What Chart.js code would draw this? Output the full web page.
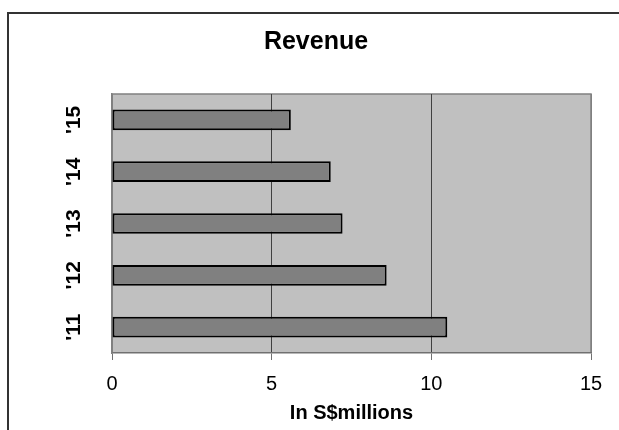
<!DOCTYPE html>
<html>
<head>
<meta charset="utf-8">
<script src="https://cdn.jsdelivr.net/npm/chart.js@4/dist/chart.umd.min.js"></script>
<style>
  html, body { margin: 0; padding: 0; background: #fff; }
  #wrap { position: relative; width: 619px; height: 430px; overflow: hidden; }
  #frame { position: absolute; left: 7px; top: 12px; width: 640px; height: 440px;
           border-left: 2px solid #333; border-top: 2px solid #333; box-sizing: border-box; }
  canvas { position: absolute; left: 0; top: 0; }
</style>
</head>
<body>
<div id="wrap">
  <div id="frame"></div>
  <canvas id="c" width="619" height="430"></canvas>
</div>
<script>
const categories = ["'11", "'12", "'13", "'14", "'15"];
const revenue = [10.5, 8.6, 7.22, 6.85, 5.6];
const xTicks = [0, 5, 10, 15];
const chartTitle = "Revenue";
const xTitle = "In S$millions";

const FONT = "'Liberation Sans', Arial, sans-serif";

const plotBg = {
  id: 'plotBg',
  beforeDraw(chart) {
    const a = chart.chartArea, ctx = chart.ctx;
    ctx.save();
    ctx.fillStyle = '#C0C0C0';
    ctx.fillRect(a.left, a.top, a.right - a.left, a.bottom - a.top);
    ctx.strokeStyle = '#808080';
    ctx.lineWidth = 1.5;
    ctx.beginPath();
    ctx.moveTo(a.left, a.top);
    ctx.lineTo(a.right, a.top);
    ctx.lineTo(a.right, a.bottom);
    ctx.stroke();
    ctx.restore();
  }
};

new Chart(document.getElementById('c'), {
  type: 'bar',
  data: {
    labels: categories,
    datasets: [{
      data: revenue,
      backgroundColor: '#808080',
      borderColor: '#000000',
      borderWidth: 2,
      borderSkipped: false,
      categoryPercentage: 1,
      barPercentage: 0.4
    }]
  },
  options: {
    indexAxis: 'y',
    responsive: false,
    animation: false,
    devicePixelRatio: 1,
    layout: { padding: { left: 41, right: 28, top: 0, bottom: 0 } },
    plugins: {
      legend: { display: false },
      tooltip: { enabled: false },
      title: {
        display: true,
        text: chartTitle,
        color: '#000',
        font: { family: FONT, size: 25, weight: 'bold' },
        padding: { top: 27.5, bottom: 36.5 }
      }
    },
    scales: {
      x: {
        type: 'linear',
        min: 0, max: 15,
        afterBuildTicks(scale) { scale.ticks = xTicks.map(v => ({ value: v })); },
        afterFit(scale) { scale.height = 77; },
        ticks: {
          color: '#000',
          font: { family: FONT, size: 20 },
          padding: 12.5
        },
        grid: {
          drawTicks: true,
          tickLength: 7,
          lineWidth: 1,
          color(ctx) {
            const v = ctx.tick ? ctx.tick.value : null;
            return (v === 0 || v === 15) ? '#808080' : '#404040';
          },
          tickColor: '#707070'
        },
        border: { display: true, color: '#707070', width: 1.5 },
        title: {
          display: true,
          text: xTitle,
          color: '#000',
          font: { family: FONT, size: 20, weight: 'bold' },
          padding: { top: 0, bottom: 4.5 }
        }
      },
      y: {
        type: 'category',
        reverse: true,
        afterFit(scale) { scale.width = 71; },
        ticks: {
          color: '#000',
          font: { family: FONT, size: 21, weight: 'bold' },
          minRotation: 90,
          maxRotation: 90,
          crossAlign: 'center',
          padding: 23.8
        },
        grid: { display: false, drawTicks: false },
        border: { display: true, color: '#808080', width: 1.5 }
      }
    }
  },
  plugins: [plotBg]
});
</script>
</body>
</html>
